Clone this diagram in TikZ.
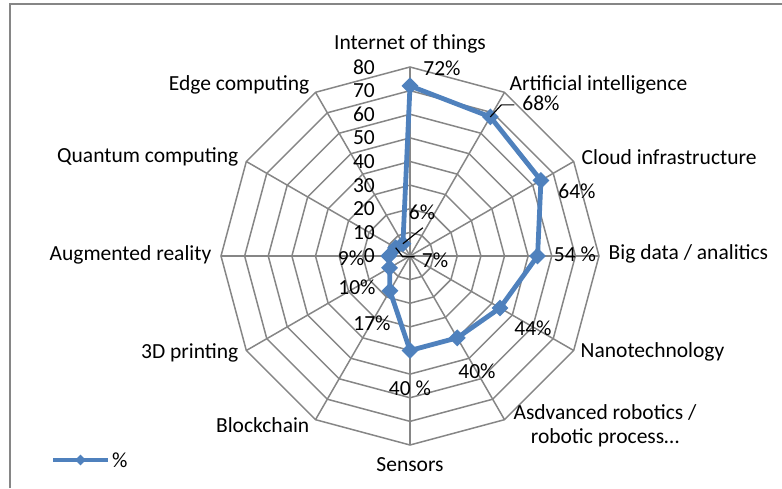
\documentclass[tikz,border=0pt]{standalone}
\usepackage{fontspec}
\setmainfont{Carlito}
\usepackage{xcolor}
\usetikzlibrary{shapes.geometric}
\definecolor{serie}{RGB}{79,129,189}
\definecolor{grille}{RGB}{134,134,134}

\begin{document}
\begin{tikzpicture}[x=1pt,y=1pt,font=\fontsize{21.5}{24}\selectfont,
  web/.style={grille,line width=1.5},
  line/.style={serie,line width=4.8,line join=round},
  marque/.style={diamond,fill=serie,inner sep=0,minimum width=17,minimum height=17},
  leader/.style={black,line width=1.2},
  etiq/.style={inner sep=0.5}]
\useasboundingbox (0,0) rectangle (782,488);
\draw[grille,line width=2] (10,0) -- (10,483.5) -- (782,483.5);
\begin{scope}[shift={(410,232)}]
\coordinate (O) at (0,0);
% spider web
\foreach \r in {1,...,8}
  \draw[web] (90:\r*23.625) \foreach \k in {1,...,11} {-- (90-30*\k:\r*23.625)} -- cycle;
\foreach \k in {0,...,11}
  \draw[web] (O) -- (90-30*\k:189) coordinate (a\k);
\foreach \v in {0,10,...,80}
  \node[anchor=east,inner sep=0] (t\v) at (-35,\v*2.3625) {\v};
% series
\foreach \v [count=\k from 0] in {72,68,64,54,44,40,40,17,10,9,7,6}
  \coordinate (d\k) at (90-30*\k:\v*2.3625);
\draw[line] (d0) \foreach \k in {1,...,11} {-- (d\k)} -- cycle;
\foreach \k in {0,...,11}
  \node[marque] (m\k) at (d\k) {};
% data labels
\node (l0) at (32,188) {72\%};
\node (l1) at (131,153) {68\%};
\node (l2) at (167,65) {64\%};
\node (l3) at (165,2) {54 \%};
\node (l4) at (123,-72) {44\%};
\node (l5) at (67,-115) {40\%};
\node (l6) at (0,-132) {40 \%};
\node (l7) at (-38,-67) {17\%};
\node (l8) at (-53,-31) {10\%};
\node (l9) at (-59,-2) {9\%};
\node (l10) at (25,-4) {7\%};
\node (l11) at (12,44) {6\%};
\draw[leader] (m1.center) -- ++(11,12) -- ++(13,0);
\draw[leader] (m10.center) -- ++(7,-9) -- ++(12,0);
\draw[leader] (m11.center) -- ++(20,16);
% categories
\node[etiq] (c0) at (0,212) {Internet of things};
\node[etiq,anchor=west] (c1) at (99,171) {Artificial intelligence};
\node[etiq,anchor=west] (c2) at (171,99) {Cloud infrastructure};
\node[etiq,anchor=west] (c3) at (198,2) {Big data / analitics};
\node[etiq,anchor=west] (c4) at (170,-96) {Nanotechnology};
\node[etiq,align=center] (c5) at (195,-170) {Asdvanced robotics /\\robotic process…};
\node[etiq] (c6) at (0,-209) {Sensors};
\node[etiq,anchor=east] (c7) at (-100,-169) {Blockchain};
\node[etiq,anchor=east] (c8) at (-171,-97) {3D printing};
\node[etiq,anchor=east] (c9) at (-198,1) {Augmented reality};
\node[etiq,anchor=east] (c10) at (-171,99) {Quantum computing};
\node[etiq,anchor=east] (c11) at (-100,171) {Edge computing};
\end{scope}
% legend
\coordinate (k1) at (53,28);
\coordinate (k2) at (108,28);
\draw[line] (k1) -- (k2);
\node[marque,minimum width=11,minimum height=11] (km) at (80.5,28) {};
\node[anchor=west,inner sep=2] (kt) at (110,28) {\%};
\end{tikzpicture}
\end{document}
